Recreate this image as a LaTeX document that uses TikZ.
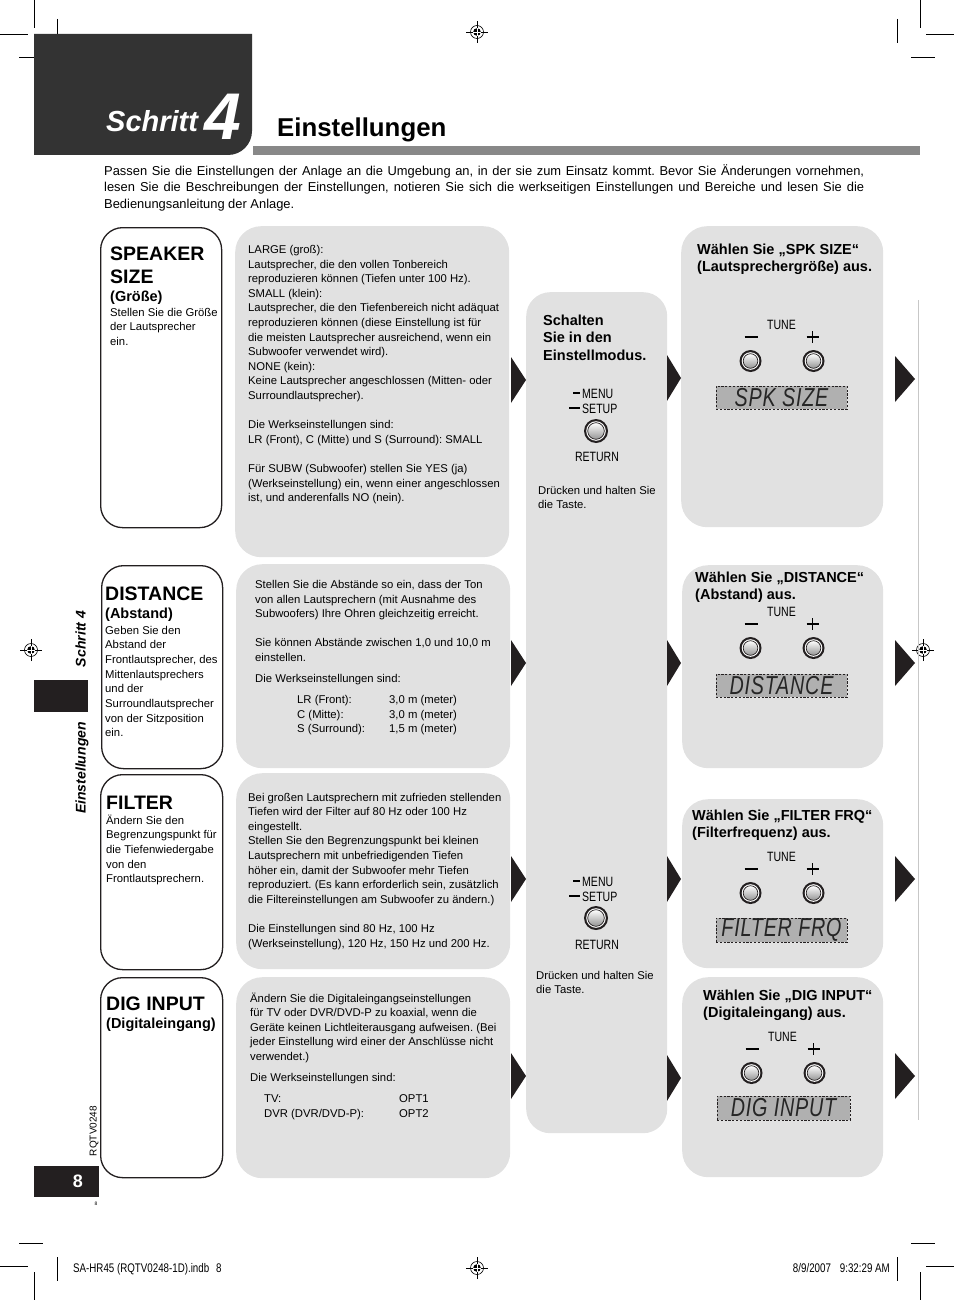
\documentclass[tikz,border=0pt]{standalone}
\usepackage{fontspec}
\setmainfont{Liberation Sans}
\newfontfamily\condfam{Liberation Sans}[FakeStretch=0.78]
\newfontfamily\lcdfam{Liberation Sans}[FakeStretch=0.76, LetterSpace=3]
\definecolor{panel}{gray}{0.882}
\definecolor{hdr}{HTML}{333333}
\definecolor{barg}{HTML}{888888}
\definecolor{lcdg}{HTML}{B0B0B0}
\definecolor{ink}{HTML}{231F20}
\newcommand\bodyf{\fontsize{11.3pt}{14.6pt}\selectfont}
\newcommand\descf{\fontsize{11.3pt}{14.7pt}\selectfont}
\newcommand\headf{\fontsize{14.5pt}{17.5pt}\selectfont\bfseries}
\newcommand\bigf{\fontsize{19.5pt}{23pt}\selectfont\bfseries}
\newcommand\tunef{\condfam\fontsize{13.5pt}{15pt}\selectfont}
\newcommand\lcdf{\lcdfam\itshape\fontsize{26pt}{28pt}\selectfont}
\newcommand\footf{\condfam\fontsize{12.5pt}{14pt}\selectfont}
% button: [radius]{name}{x}{y}
\newcommand\btn[4][11]{%
  \node[circle, fill=ink, minimum size=2*#1pt, inner sep=0pt] (#2) at (#3,#4) {};
  \fill[white] (#2) circle[radius=#1pt-2.2pt];
  \shade[top color=white, bottom color=black!42, draw=ink, line width=0.7pt] (#2) circle[radius=#1pt-3.7pt];
}
% tune group: {prefix}{xc}{T}
\newcommand\tunegrp[3]{%
  \node[font=\tunef, anchor=base, inner sep=0pt] (#1tune) at (#2,#3+5) {TUNE};
  \draw[line width=1.3pt] (#2-37,#3+13) -- (#2-24,#3+13);
  \draw[line width=1.3pt] (#2+25,#3+13) -- (#2+37,#3+13);
  \draw[line width=1.3pt] (#2+31,#3+7) -- (#2+31,#3+19);
  \btn{#1minus}{#2-31}{#3+37}
  \btn{#1plus}{#2+32}{#3+37}
}
% registration mark
\newcommand\regmark[3]{%
  \coordinate (#1) at (#2,#3);
  \draw[line width=0.6pt] (#1) circle[radius=6.5pt];
  \draw[line width=0.6pt] ([xshift=-11pt]#1) -- ([xshift=11pt]#1);
  \draw[line width=0.6pt] ([yshift=-11pt]#1) -- ([yshift=11pt]#1);
  \fill (#1) circle[radius=3.8pt];
  \draw[white, line width=0.7pt] ([xshift=-3.8pt]#1) -- ([xshift=3.8pt]#1);
  \draw[white, line width=0.7pt] ([yshift=-3.8pt]#1) -- ([yshift=3.8pt]#1);
}
\newcommand\tri[3]{\fill[ink] (#1,#2-23) -- (#1+#3,#2) -- (#1,#2+23) -- cycle;}
\begin{document}
\frenchspacing
\begin{tikzpicture}[x=1pt,y=-1pt,
  panelbox/.style={fill=panel, rounded corners=26pt, anchor=north west, inner sep=0pt},
  keybox/.style={draw=ink, line width=1.3pt, fill=white, rounded corners=22pt, anchor=north west, inner sep=0pt},
  txt/.style={anchor=base west, inner sep=0pt},
  lcd/.style={draw=ink, dash pattern=on 2.2pt off 1.6pt, line width=0.7pt, fill=lcdg, inner sep=0pt, font=\lcdf, text=black!85},
  crop/.style={line width=0.8pt}]
\useasboundingbox (0,0) rectangle (954,1300);

% crop marks
\draw[crop] (34,0) -- (34,28);  \draw[crop] (57,19) -- (57,43);
\draw[crop] (0,34) -- (28,34);  \draw[crop] (19,57) -- (43,57);
\draw[crop] (920,0) -- (920,28); \draw[crop] (897,19) -- (897,43);
\draw[crop] (926,34) -- (954,34); \draw[crop] (911,57) -- (935,57);
\draw[crop] (34,1272) -- (34,1300); \draw[crop] (57,1257) -- (57,1281);
\draw[crop] (0,1266) -- (28,1266); \draw[crop] (19,1243) -- (43,1243);
\draw[crop] (920,1272) -- (920,1300); \draw[crop] (897,1257) -- (897,1281);
\draw[crop] (926,1266) -- (954,1266); \draw[crop] (911,1243) -- (935,1243);

\regmark{regT}{477}{32}
\regmark{regL}{31}{650}
\regmark{regR}{923}{650}
\regmark{regB}{477}{1268}

% header
\fill[hdr] (34,34) -- (252,34) -- (252,131) .. controls (252,144.3) and (241.3,155) .. (228,155) -- (34,155) -- cycle;
\fill[barg] (253,146) rectangle (920,155);
\node[txt, text=white, font=\fontsize{29pt}{32pt}\selectfont\bfseries\itshape] (schritt) at (106,132) {Schritt};
\node[txt, text=white, font=\fontsize{66pt}{70pt}\selectfont\bfseries\itshape] (four) at (204,140) {4};
\node[txt, font=\fontsize{25.8pt}{30pt}\selectfont\bfseries] (title) at (277,137) {Einstellungen};

% intro
\node[txt, font=\fontsize{12.9pt}{16.5pt}\selectfont] (intro) at (104,175.5) {\parbox[t]{760pt}{%
\makebox[760pt][s]{Passen Sie die Einstellungen der Anlage an die Umgebung an, in der sie zum Einsatz kommt. Bevor Sie Änderungen vornehmen,}\\
\makebox[760pt][s]{lesen Sie die Beschreibungen der Einstellungen, notieren Sie sich die werkseitigen Einstellungen und Bereiche und lesen Sie die}\\
Bedienungsanleitung der Anlage.}};

% side bar
\node[fill=ink, anchor=north west, minimum width=54pt, minimum height=32pt, inner sep=0pt] (sidetab) at (34,680) {};
\node[rotate=90, anchor=base, inner sep=0pt, font=\fontsize{14pt}{16pt}\selectfont\bfseries\itshape] (sideA) at (85.5,639) {Schritt 4};
\node[rotate=90, anchor=base, inner sep=0pt, font=\fontsize{14pt}{16pt}\selectfont\bfseries\itshape] (sideB) at (85.5,768) {Einstellungen};
\node[rotate=90, anchor=base, inner sep=0pt, font=\fontsize{10pt}{12pt}\selectfont] (rqtv) at (96.5,1131) {RQTV0248};
\node[fill=ink, anchor=north west, minimum width=65pt, minimum height=31pt, inner sep=0pt] (pgbox) at (34,1166) {};
\node[text=white, font=\fontsize{18pt}{20pt}\selectfont\bfseries, inner sep=0pt] (pgnum) at (78,1181.5) {8};
\node[font=\fontsize{5pt}{6pt}\selectfont, inner sep=0pt] (pgsmall) at (96,1204) {8};

% right edge line
\draw[black!22, line width=1.5pt] (918.5,300) -- (918.5,1120);

% panels
\node[panelbox, minimum width=274pt, minimum height=331pt] (m1) at (235,226) {};
\node[panelbox, minimum width=274pt, minimum height=204pt] (m2) at (236,564) {};
\node[panelbox, minimum width=274pt, minimum height=196pt] (m3) at (236,773) {};
\node[panelbox, minimum width=274pt, minimum height=201pt] (m4) at (236,977) {};
\node[panelbox, rounded corners=24pt, minimum width=141pt, minimum height=841pt] (setup) at (526,292) {};
\node[panelbox, minimum width=202pt, minimum height=301pt] (r1) at (681,226) {};
\node[panelbox, minimum width=201pt, minimum height=203pt] (r2) at (682,565) {};
\node[panelbox, minimum width=201pt, minimum height=169pt] (r3) at (682,799) {};
\node[panelbox, minimum width=201pt, minimum height=200pt] (r4) at (682,977) {};

% key boxes
\node[keybox, minimum width=121pt, minimum height=300pt] (k1) at (100,227) {};
\node[keybox, minimum width=121pt, minimum height=203pt] (k2) at (101,565) {};
\node[keybox, minimum width=122pt, minimum height=195pt] (k3) at (100,774) {};
\node[keybox, minimum width=122pt, minimum height=200pt] (k4) at (100,977) {};

% key box texts
\node[txt, font=\bigf] (k1t) at (110,260) {\parbox[t]{110pt}{SPEAKER\\SIZE}};
\node[txt, font=\headf] (k1s) at (110,301) {(Größe)};
\node[txt, font=\descf] (k1d) at (110,316) {\parbox[t]{110pt}{\raggedright Stellen Sie die Größe\\der Lautsprecher\\ein.}};

\node[txt, font=\bigf] (k2t) at (105,600) {DISTANCE};
\node[txt, font=\headf] (k2s) at (105,618) {(Abstand)};
\node[txt, font=\descf] (k2d) at (105,634) {\parbox[t]{116pt}{\raggedright Geben Sie den\\Abstand der\\Frontlautsprecher, des\\Mittenlautsprechers\\und der\\Surroundlautsprecher\\von der Sitzposition\\ein.}};

\node[txt, font=\bigf] (k3t) at (106,809) {FILTER};
\node[txt, font=\descf] (k3d) at (106,824) {\parbox[t]{116pt}{\raggedright Ändern Sie den\\Begrenzungspunkt für\\die Tiefenwiedergabe\\von den\\Frontlautsprechern.}};

\node[txt, font=\bigf] (k4t) at (106,1010) {DIG INPUT};
\node[txt, font=\headf] (k4s) at (106,1028) {(Digitaleingang)};

% middle texts
\node[txt, font=\bodyf] (m1t) at (248,253.5) {\parbox[t]{260pt}{\raggedright
LARGE (groß):\\
Lautsprecher, die den vollen Tonbereich\\
reproduzieren können (Tiefen unter 100 Hz).\\
SMALL (klein):\\
Lautsprecher, die den Tiefenbereich nicht adäquat\\
reproduzieren können (diese Einstellung ist für\\
die meisten Lautsprecher ausreichend, wenn ein\\
Subwoofer verwendet wird).\\
NONE (kein):\\
Keine Lautsprecher angeschlossen (Mitten- oder\\
Surroundlautsprecher).\\[14.6pt]
Die Werkseinstellungen sind:\\
LR (Front), C (Mitte) und S (Surround): SMALL\\[14.6pt]
Für SUBW (Subwoofer) stellen Sie YES (ja)\\
(Werkseinstellung) ein, wenn einer angeschlossen\\
ist, und anderenfalls NO (nein).}};

\node[txt, font=\bodyf] (m2t) at (255,588.5) {\parbox[t]{250pt}{\raggedright
Stellen Sie die Abstände so ein, dass der Ton\\
von allen Lautsprechern (mit Ausnahme des\\
Subwoofers) Ihre Ohren gleichzeitig erreicht.\\[14.6pt]
Sie können Abstände zwischen 1,0 und 10,0 m\\
einstellen.\\[6.5pt]
Die Werkseinstellungen sind:\\[6.5pt]
\hspace*{42pt}\makebox[92pt][l]{LR (Front):}3,0 m (meter)\\
\hspace*{42pt}\makebox[92pt][l]{C (Mitte):}3,0 m (meter)\\
\hspace*{42pt}\makebox[92pt][l]{S (Surround):}1,5 m (meter)}};

\node[txt, font=\bodyf] (m3t) at (248,801) {\parbox[t]{260pt}{\raggedright
Bei großen Lautsprechern mit zufrieden stellenden\\
Tiefen wird der Filter auf 80 Hz oder 100 Hz\\
eingestellt.\\
Stellen Sie den Begrenzungspunkt bei kleinen\\
Lautsprechern mit unbefriedigenden Tiefen\\
höher ein, damit der Subwoofer mehr Tiefen\\
reproduziert. (Es kann erforderlich sein, zusätzlich\\
die Filtereinstellungen am Subwoofer zu ändern.)\\[14.6pt]
Die Einstellungen sind 80 Hz, 100 Hz\\
(Werkseinstellung), 120 Hz, 150 Hz und 200 Hz.}};

\node[txt, font=\bodyf] (m4t) at (250,1002) {\parbox[t]{258pt}{\raggedright
Ändern Sie die Digitaleingangseinstellungen\\
für TV oder DVR/DVD-P zu koaxial, wenn die\\
Geräte keinen Lichtleiterausgang aufweisen. (Bei\\
jeder Einstellung wird einer der Anschlüsse nicht\\
verwendet.)\\[6.5pt]
Die Werkseinstellungen sind:\\[6.5pt]
\hspace*{14pt}\makebox[135pt][l]{TV:}OPT1\\
\hspace*{14pt}\makebox[135pt][l]{DVR (DVR/DVD-P):}OPT2}};

% setup column
\node[txt, font=\headf] (st) at (543,325) {\parbox[t]{120pt}{Schalten\\Sie in den\\Einstellmodus.}};
\node[txt, font=\tunef] (menu1) at (582,398) {MENU};
\node[txt, font=\tunef] (setup1) at (582,413) {SETUP};
\draw[line width=1.6pt] (573,393) -- (580,393);
\draw[line width=2.4pt] (569,408) -- (580,408);
\btn[12]{ret1btn}{596}{431}
\node[font=\tunef, anchor=base, inner sep=0pt] (ret1) at (597,461) {RETURN};
\node[txt, font=\bodyf] (dr1) at (538,494) {\parbox[t]{125pt}{Drücken und halten Sie\\die Taste.}};

\node[txt, font=\tunef] (menu2) at (582,886) {MENU};
\node[txt, font=\tunef] (setup2) at (582,901) {SETUP};
\draw[line width=1.6pt] (573,881) -- (580,881);
\draw[line width=2.4pt] (569,896) -- (580,896);
\btn[12]{ret2btn}{596}{918}
\node[font=\tunef, anchor=base, inner sep=0pt] (ret2) at (597,949) {RETURN};
\node[txt, font=\bodyf] (dr2) at (536,979) {\parbox[t]{125pt}{Drücken und halten Sie\\die Taste.}};

% right panels
\node[txt, font=\headf] (r1t) at (697,254) {\parbox[t]{185pt}{Wählen Sie „SPK SIZE“\\(Lautsprechergröße) aus.}};
\tunegrp{a}{781.5}{324}
\node[lcd, minimum width=131pt, minimum height=23pt] (lcd1) at (781.5,397.5) {SPK SIZE};

\node[txt, font=\headf] (r2t) at (695,582) {\parbox[t]{185pt}{Wählen Sie „DISTANCE“\\(Abstand) aus.}};
\tunegrp{b}{781.5}{611}
\node[lcd, minimum width=131pt, minimum height=23pt] (lcd2) at (781.5,685.5) {DISTANCE};

\node[txt, font=\headf] (r3t) at (692,820) {\parbox[t]{185pt}{Wählen Sie „FILTER FRQ“\\(Filterfrequenz) aus.}};
\tunegrp{c}{781.5}{856}
\node[lcd, minimum width=131pt, minimum height=24pt] (lcd3) at (781.5,930) {FILTER FRQ};

\node[txt, font=\headf] (r4t) at (703,1000) {\parbox[t]{175pt}{Wählen Sie „DIG INPUT“\\(Digitaleingang) aus.}};
\tunegrp{d}{782.5}{1036}
\node[lcd, minimum width=133pt, minimum height=24pt] (lcd4) at (783.5,1108) {DIG INPUT};

% arrow triangles
\tri{511}{380}{15} \tri{511}{663}{15} \tri{511}{879}{15} \tri{511}{1076}{15}
\tri{667}{378}{14} \tri{667}{663}{14} \tri{667}{879}{14} \tri{667}{1078}{14}
\tri{895}{379}{20} \tri{895}{663}{20} \tri{895}{879}{20} \tri{895}{1076}{20}

% footer
\node[txt, font=\footf] (foot1) at (73,1272) {SA-HR45 (RQTV0248-1D).indb\hspace{7pt}8};
\node[anchor=base east, inner sep=0pt, font=\footf] (foot2) at (890,1272) {8/9/2007\hspace{9pt}9:32:29 AM};
\end{tikzpicture}
\end{document}
